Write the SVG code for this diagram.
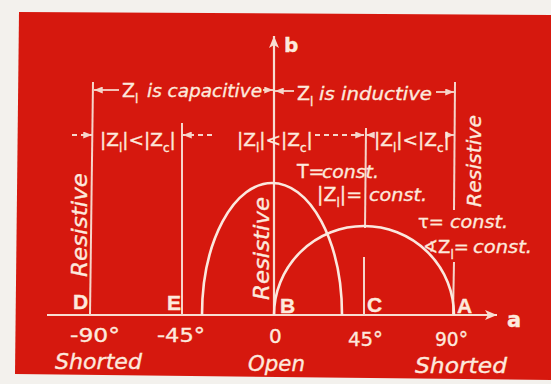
<svg xmlns="http://www.w3.org/2000/svg" width="551" height="384" viewBox="0 0 551 384">
<defs>
<style>
.ln{stroke:#f6d5ca;stroke-width:2;fill:none}
.ax{stroke:#f8ddd2;stroke-width:2.2;fill:none}
.arc{stroke:#fbe8de;stroke-width:2.6;fill:none}
.dim{stroke:#f6d5ca;stroke-width:1.8;fill:none}
.dash{stroke:#f6d5ca;stroke-width:1.8;fill:none;stroke-dasharray:5 4}
text{fill:#fde9dd;stroke:#fde9dd;stroke-width:0.35;font-family:"DejaVu Sans","Liberation Sans",sans-serif}
.it{font-style:italic}
.lbl{font-family:"Liberation Sans",Arial,sans-serif;font-weight:bold;font-size:21px}
.sub{font-size:12px}
</style>
<marker id="ah" viewBox="0 0 10 8" refX="10" refY="4" markerWidth="9" markerHeight="7" markerUnits="userSpaceOnUse" orient="auto">
<path d="M0,0 L10,4 L0,8 z" fill="#f6d5ca"/>
</marker>
<marker id="big" viewBox="0 0 12 10" refX="12" refY="5" markerWidth="13" markerHeight="10" markerUnits="userSpaceOnUse" orient="auto">
<path d="M0,0 L12,5 L0,10 L3,5 z" fill="#f8ddd2"/>
</marker>
</defs>

<rect width="551" height="384" fill="#f3f1ed"/>
<polygon points="19,12 551,15 551,380 15,374" fill="#d6180e"/>

<g id="axes">
<line class="ax" x1="47" y1="315" x2="497" y2="315" marker-end="url(#big)"/>
<line class="ax" x1="274" y1="315" x2="274" y2="36" marker-end="url(#big)"/>
<text x="284" y="52" style="font-family:'DejaVu Sans',sans-serif;font-weight:bold;font-size:20px">b</text>
<text x="507" y="327" style="font-family:'DejaVu Sans',sans-serif;font-weight:bold;font-size:21px">a</text>
</g>

<g id="connectors">
<line class="ln" x1="93" y1="82" x2="90" y2="315"/>
<line class="ln" x1="182" y1="123" x2="182" y2="315"/>
<line class="ln" x1="366" y1="128" x2="365" y2="228"/>
<line class="ln" x1="364" y1="257" x2="364" y2="315"/>
<line class="ln" x1="455" y1="82" x2="454" y2="210"/>
<line class="ln" x1="454" y1="262" x2="453" y2="315"/>
<line class="dim" x1="119" y1="90" x2="94" y2="90" marker-end="url(#ah)"/>
<line class="dim" x1="263" y1="90" x2="273" y2="90" marker-end="url(#ah)"/>
<line class="dim" x1="294" y1="91" x2="275" y2="91" marker-end="url(#ah)"/>
<line class="dim" x1="436" y1="92" x2="454" y2="92" marker-end="url(#ah)"/>
<line class="dash" x1="72" y1="135" x2="92" y2="135" marker-end="url(#ah)"/>
<line class="dash" x1="212" y1="135" x2="183" y2="135" marker-end="url(#ah)"/>
<line class="dash" x1="315" y1="135" x2="364" y2="135" marker-end="url(#ah)"/>
<line class="dim" x1="374" y1="135" x2="366" y2="135" marker-end="url(#ah)"/>
<line class="dim" x1="447" y1="135" x2="454" y2="135" marker-end="url(#ah)"/>
</g>

<g id="curves">
<path id="arc-T" class="arc" d="M202,315 A70,132 0 0 1 342,315"/>
<path id="arc-tau" class="arc" d="M274,315 A90,89 0 0 1 454,315"/>
</g>

<g id="top-labels">
<text x="122" y="97" font-size="19">Z<tspan class="sub" dy="6">l</tspan></text>
<text class="it" x="147" y="97" font-size="18" textLength="115" lengthAdjust="spacingAndGlyphs">is capacitive</text>
<text x="297" y="100" font-size="19">Z<tspan class="sub" dy="6">l</tspan></text>
<text class="it" x="319" y="100" font-size="18" textLength="113" lengthAdjust="spacingAndGlyphs">is inductive</text>

<text x="100" y="146" font-size="18.5">|Z<tspan class="sub" dy="6">l</tspan><tspan dy="-6">|&lt;|Z</tspan><tspan class="sub" dy="6">c</tspan><tspan dy="-6">|</tspan></text>
<text x="237" y="146" font-size="18.5">|Z<tspan class="sub" dy="6">l</tspan><tspan dy="-6">|&lt;|Z</tspan><tspan class="sub" dy="6">c</tspan><tspan dy="-6">|</tspan></text>
<text x="374" y="146" font-size="18.5">|Z<tspan class="sub" dy="6">l</tspan><tspan dy="-6">|&lt;|Z</tspan><tspan class="sub" dy="6">c</tspan><tspan dy="-6">|</tspan></text>
</g>

<g id="curve-labels">
<text x="297" y="178" font-size="19">T=</text>
<text class="it" x="322" y="178" font-size="18" textLength="57" lengthAdjust="spacingAndGlyphs">const.</text>
<text x="317" y="201" font-size="19">|Z<tspan class="sub" dy="6">l</tspan><tspan dy="-6">|=</tspan></text>
<text class="it" x="369" y="201" font-size="18" textLength="58" lengthAdjust="spacingAndGlyphs">const.</text>
<text x="418" y="228" font-size="18">τ=</text>
<text class="it" x="450" y="228" font-size="18" textLength="58" lengthAdjust="spacingAndGlyphs">const.</text>
<text x="423" y="253" font-size="18">∢Z<tspan class="sub" dy="6">l</tspan><tspan dy="-6">=</tspan></text>
<text class="it" x="473" y="253" font-size="18" textLength="59" lengthAdjust="spacingAndGlyphs">const.</text>
</g>

<g id="resistive">
<text class="it" transform="translate(87,277) rotate(-90)" font-size="22" textLength="104" lengthAdjust="spacingAndGlyphs">Resistive</text>
<text class="it" transform="translate(269,300) rotate(-90)" font-size="21" textLength="103" lengthAdjust="spacingAndGlyphs">Resistive</text>
<text class="it" transform="translate(481,207) rotate(-90)" font-size="20" textLength="92" lengthAdjust="spacingAndGlyphs">Resistive</text>
</g>

<g id="node-D"><text class="lbl" x="73" y="309">D</text><text x="70" y="342" font-size="20" textLength="50" lengthAdjust="spacingAndGlyphs">-90°</text><text class="it" x="55" y="369" font-size="22" textLength="87" lengthAdjust="spacingAndGlyphs">Shorted</text></g>
<g id="node-E"><text class="lbl" x="167" y="310">E</text><text x="157" y="342" font-size="20" textLength="48" lengthAdjust="spacingAndGlyphs">-45°</text></g>
<g id="node-B"><text class="lbl" x="280" y="313">B</text><text x="269" y="343" font-size="20">0</text><text class="it" x="248" y="371" font-size="22" textLength="57" lengthAdjust="spacingAndGlyphs">Open</text></g>
<g id="node-C"><text class="lbl" x="367" y="312">C</text><text x="348" y="346" font-size="20" textLength="35" lengthAdjust="spacingAndGlyphs">45°</text></g>
<g id="node-A"><text class="lbl" x="457" y="313">A</text><text x="435" y="346" font-size="20" textLength="33" lengthAdjust="spacingAndGlyphs">90°</text><text class="it" x="415" y="373" font-size="22" textLength="92" lengthAdjust="spacingAndGlyphs">Shorted</text></g>
</svg>
